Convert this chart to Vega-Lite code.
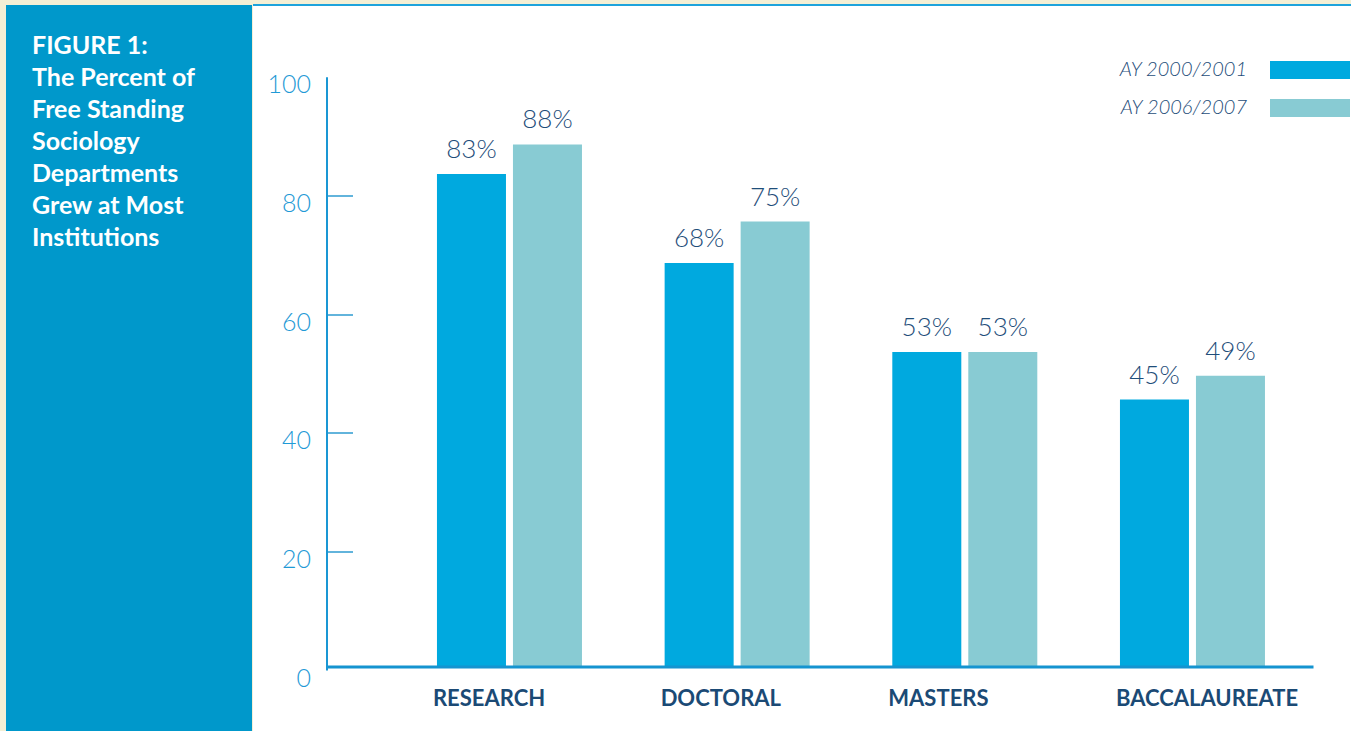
{
  "$schema": "https://vega.github.io/schema/vega-lite/v6.json",
  "background": "#f4efd5",
  "padding": {"left": 6, "top": 4, "right": 0, "bottom": 0},
  "spacing": 0,
  "config": {"font": "Lato", "view": {"stroke": null}},
  "hconcat": [
    {
      "width": 246,
      "height": 726,
      "view": {"fill": "#0098cb", "stroke": null},
      "data": {"values": []},
      "mark": "point",
      "title": {
        "text": ["FIGURE 1:", "The Percent of", "Free Standing", "Sociology", "Departments", "Grew at Most", "Institutions"],
        "orient": "bottom",
        "anchor": "start",
        "frame": "group",
        "offset": -697,
        "dx": 26,
        "font": "Lato",
        "fontSize": 25,
        "fontWeight": "bold",
        "color": "#ffffff",
        "lineHeight": 32
      }
    },
    {
      "width": 1099,
      "height": 726,
      "view": {"fill": "#ffffff", "stroke": "#1ea3dc", "strokeWidth": 2, "strokeDash": [1099, 4000]},
      "data": {
        "values": [
          {"category": "RESEARCH", "year": "AY 2000/2001", "value": 83, "label": "83%"},
          {"category": "RESEARCH", "year": "AY 2006/2007", "value": 88, "label": "88%"},
          {"category": "DOCTORAL", "year": "AY 2000/2001", "value": 68, "label": "68%"},
          {"category": "DOCTORAL", "year": "AY 2006/2007", "value": 75, "label": "75%"},
          {"category": "MASTERS", "year": "AY 2000/2001", "value": 53, "label": "53%"},
          {"category": "MASTERS", "year": "AY 2006/2007", "value": 53, "label": "53%"},
          {"category": "BACCALAUREATE", "year": "AY 2000/2001", "value": 45, "label": "45%"},
          {"category": "BACCALAUREATE", "year": "AY 2006/2007", "value": 49, "label": "49%"}
        ]
      },
      "encoding": {
        "x": {
          "field": "category",
          "type": "nominal",
          "sort": ["RESEARCH", "DOCTORAL", "MASTERS", "BACCALAUREATE"],
          "scale": {"range": [74, 1060], "paddingInner": 0.3631, "paddingOuter": 0.347, "align": 0.696},
          "axis": {
            "title": null,
            "orient": "bottom",
            "offset": -64.5,
            "domainColor": "#1594d0",
            "domainWidth": 3,
            "ticks": false,
            "labelFont": "Lato",
            "labelFontWeight": "bold",
            "labelFontSize": 22,
            "labelColor": "#1b4a75",
            "labelAlign": "left",
            "labelOffset": -76.5,
            "labelPadding": 22,
            "labelAngle": 0,
            "labelLimit": 400,
            "zindex": 1
          }
        },
        "xOffset": {
          "field": "year",
          "type": "nominal",
          "scale": {"paddingInner": 0.092, "paddingOuter": 0}
        },
        "y": {
          "field": "value",
          "type": "quantitative",
          "scale": {"domain": [0, 100], "range": [661.5, 68.2], "nice": false},
          "axis": {
            "values": [0, 20, 40, 60, 80, 100],
            "title": null,
            "orient": "left",
            "offset": -70,
            "translate": 4,
            "grid": false,
            "domainColor": "#1a97d4",
            "domainWidth": 2,
            "tickColor": "#62b4dc",
            "tickWidth": 2,
            "tickSize": -26,
            "tickOpacity": {"condition": {"test": "datum.value == 0 || datum.value == 100", "value": 0}, "value": 1},
            "labelFont": "Lato",
            "labelFontWeight": 300,
            "labelFontSize": 25,
            "labelColor": "#1f9ad6",
            "labelPadding": 42,
            "labelOffset": 8,
            "zindex": 1
          }
        }
      },
      "layer": [
        {
          "mark": {"type": "bar"},
          "encoding": {
            "color": {
              "field": "year",
              "type": "nominal",
              "scale": {"domain": ["AY 2000/2001", "AY 2006/2007"], "range": ["#00a9df", "#88cbd3"]},
              "legend": {
                "orient": "none",
                "legendX": 1294,
                "legendY": 55,
                "title": null,
                "padding": 0,
                "symbolType": "M-4,-0.9H4V0.9H-4Z",
                "symbolSize": 400,
                "symbolStrokeWidth": 0,
                "symbolOpacity": 1,
                "labelAlign": "right",
                "labelOffset": -73,
                "labelFont": "Lato",
                "labelFontStyle": "italic",
                "labelFontWeight": 300,
                "labelFontSize": 20,
                "labelColor": "#1f4e7a",
                "labelLimit": 300,
                "rowPadding": 18
              }
            }
          }
        },
        {
          "mark": {"type": "text", "baseline": "alphabetic", "dy": -16, "font": "Lato", "fontWeight": 300, "fontSize": 26, "color": "#1f4e7a"},
          "encoding": {"text": {"field": "label"}}
        }
      ]
    }
  ]
}
